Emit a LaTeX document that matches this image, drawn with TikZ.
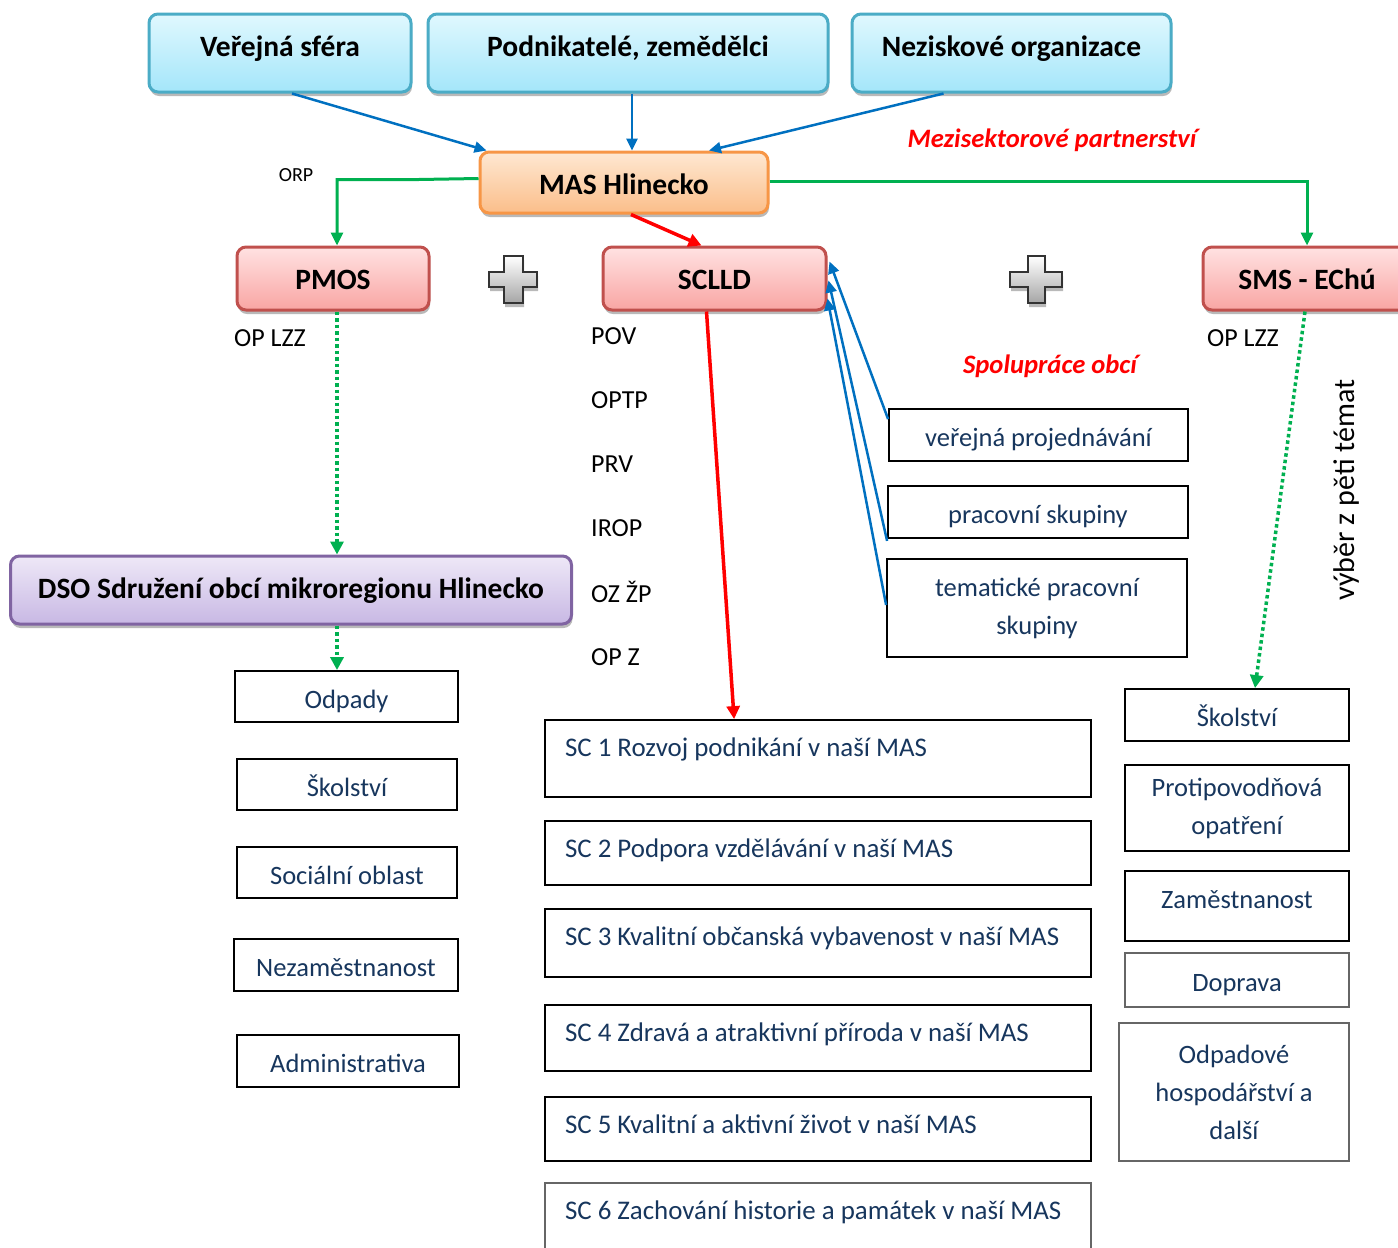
\documentclass[tikz,border=0pt]{standalone}
\usepackage{fontspec}
\setmainfont{Carlito}
\usetikzlibrary{arrows.meta,shadows,calc}
\definecolor{navytxt}{RGB}{23,54,93}
\definecolor{topborder}{RGB}{75,172,198}
\definecolor{toptop}{RGB}{224,248,254}
\definecolor{topbot}{RGB}{164,230,250}
\definecolor{masborder}{RGB}{247,150,70}
\definecolor{mastop}{RGB}{254,232,210}
\definecolor{masbot}{RGB}{251,190,138}
\definecolor{redborder}{RGB}{192,80,77}
\definecolor{redtop}{RGB}{255,226,226}
\definecolor{redbot}{RGB}{249,165,163}
\definecolor{purborder}{RGB}{128,100,162}
\definecolor{purtop}{RGB}{238,232,247}
\definecolor{purbot}{RGB}{200,184,228}
\definecolor{arrblue}{RGB}{0,112,192}
\definecolor{arrgreen}{RGB}{0,176,80}
\definecolor{arrred}{RGB}{255,0,0}
\begin{document}
\begin{tikzpicture}[x=1pt,y=-1pt,
  shad/.style={drop shadow={shadow xshift=1pt,shadow yshift=-4pt,fill=black!50,opacity=.55}},
  roundbox/.style={rounded corners=9pt, line width=3pt, inner sep=0pt, shad, font=\fontsize{29.5}{34}\selectfont\bfseries},
  topbox/.style={roundbox, draw=topborder, top color=toptop, bottom color=topbot, text height=20pt, text depth=13pt},
  masbox/.style={roundbox, draw=masborder, top color=mastop, bottom color=masbot, text height=30pt, text depth=6pt},
  redbox/.style={roundbox, draw=redborder, top color=redtop, bottom color=redbot, text height=28pt, text depth=6pt},
  purbox/.style={roundbox, draw=purborder, top color=purtop, bottom color=purbot, text height=24pt, text depth=7pt},
  plainbox/.style={draw=black, line width=1.8pt, inner sep=0pt, align=center, text=navytxt, font=\fontsize{26.5}{38}\selectfont},
  oneline/.style={text height=29pt, text depth=6pt},
  graybox/.style={plainbox, draw=black!60},
  scbox/.style={plainbox, minimum width=546pt, inner xsep=20pt, inner ysep=0pt, text height=36pt, font=\fontsize{26.9}{38}\selectfont},
  lbl/.style={inner sep=0pt, font=\fontsize{26}{30}\selectfont},
  redlbl/.style={inner sep=0pt, text=arrred, font=\fontsize{26.6}{30}\selectfont\bfseries\itshape},
  bluearr/.style={draw=arrblue, line width=2.5pt, -{Triangle[length=12pt,width=11pt]}},
  greenarr/.style={draw=arrgreen, line width=3pt, -{Triangle[length=13pt,width=12pt]}},
  greendot/.style={draw=arrgreen, line width=3.5pt, dash pattern=on 3.5pt off 3pt, -{Triangle[length=13pt,width=13pt]}},
  redarr/.style={draw=arrred, line width=3.5pt, -{Triangle[length=13pt,width=13pt]}},
  plusst/.style={draw=black!80, line width=2pt, top color=white, bottom color=black!35, shad}
]
\useasboundingbox (0,0) rectangle (1398,1248);

% top boxes
\node[topbox, minimum width=262pt, minimum height=78pt] (ver) at (280,53) {Veřejná sféra};
\node[topbox, minimum width=400pt, minimum height=78pt] (pod) at (628,53) {Podnikatelé, zemědělci};
\node[topbox, minimum width=319pt, minimum height=78pt] (nez) at (1011.5,53) {Neziskové organizace};

\node[masbox, minimum width=288pt, minimum height=61pt] (mas) at (624,182.5) {MAS Hlinecko};

\node[redbox, minimum width=192pt, minimum height=63pt] (pmos) at (333,278.5) {PMOS};
\node[redbox, minimum width=223pt, minimum height=63pt] (sclld) at (714.5,278.5) {SCLLD};
\node[redbox, minimum width=208pt, minimum height=63pt] (sms) at (1307,278.5) {SMS - EChú};

\node[purbox, minimum width=561pt, minimum height=68pt] (dso) at (291,590) {DSO Sdružení obcí mikroregionu Hlinecko};

% plus signs
\draw[plusst] (504,256) -- (523,256) -- (523,272) -- (537,272) -- (537,287) -- (523,287) -- (523,303) -- (504,303) -- (504,287) -- (489,287) -- (489,272) -- (504,272) -- cycle;
\draw[plusst] (1028,256) -- (1045,256) -- (1045,272) -- (1062,272) -- (1062,287) -- (1045,287) -- (1045,303) -- (1028,303) -- (1028,287) -- (1010,287) -- (1010,272) -- (1028,272) -- cycle;

% labels
\node[lbl, font=\fontsize{20}{22}\selectfont] (orp) at (296,175) {ORP};
\node[lbl] (oplzz1) at (270,338) {OP LZZ};
\node[lbl] (oplzz2) at (1243,338) {OP LZZ};
\node[lbl, anchor=west] (pov) at (591,336) {POV};
\node[lbl, anchor=west] (optp) at (591,400) {OPTP};
\node[lbl, anchor=west] (prv) at (591,464) {PRV};
\node[lbl, anchor=west] (irop) at (591,528) {IROP};
\node[lbl, anchor=west] (ozzp) at (591,592) {OZ ŽP};
\node[lbl, anchor=west] (opz) at (591,657) {OP Z};
\node[redlbl] (mezi) at (1052,140) {Mezisektorové partnerství};
\node[redlbl] (spol) at (1050,366) {Spolupráce obcí};
\node[lbl, rotate=90, font=\fontsize{30}{32}\selectfont] (vyber) at (1346,490) {výběr z pěti témat};

% left boxes
\node[plainbox, oneline, minimum width=223pt, minimum height=51pt] (odp) at (346.5,696.5) {Odpady};
\node[plainbox, oneline, minimum width=220pt, minimum height=51pt] (skol1) at (347,784.5) {Školství};
\node[plainbox, oneline, minimum width=220pt, minimum height=51pt] (soc) at (347,872.5) {Sociální oblast};
\node[plainbox, oneline, minimum width=224pt, minimum height=52pt] (nezam) at (346,965) {Nezaměstnanost};
\node[plainbox, oneline, minimum width=222pt, minimum height=52pt] (adm) at (348,1061) {Administrativa};

% cooperation boxes
\node[plainbox, oneline, minimum width=299pt, minimum height=52pt] (vp) at (1038.5,435) {veřejná projednávání};
\node[plainbox, oneline, minimum width=300pt, minimum height=52pt] (ps) at (1038,512) {pracovní skupiny};
\node[plainbox, minimum width=300pt, minimum height=98pt] (tps) at (1037,608) {tematické pracovní\\skupiny};

% right boxes
\node[plainbox, oneline, minimum width=224pt, minimum height=52pt] (skol2) at (1237,715) {Školství};
\node[plainbox, minimum width=224pt, minimum height=86pt] (prot) at (1237,808) {Protipovodňová\\opatření};
\node[plainbox, minimum width=224pt, inner ysep=0pt, text height=37pt, text depth=33pt] (zam) at (1237,906) {Zaměstnanost};
\node[graybox, oneline, minimum width=224pt, minimum height=54pt] (dop) at (1237,980) {Doprava};
\node[graybox, minimum width=230pt, minimum height=138pt] (odh) at (1234,1092) {Odpadové\\hospodářství a\\další};

% SC boxes
\node[scbox, text depth=41pt] (sc1) at (818,758.5) {\makebox[506pt][l]{SC 1 Rozvoj podnikání v naší MAS}};
\node[scbox, text depth=28pt] (sc2) at (818,853) {\makebox[506pt][l]{SC 2 Podpora vzdělávání v naší MAS}};
\node[scbox, text depth=32pt] (sc3) at (818,943) {\makebox[506pt][l]{SC 3 Kvalitní občanská vybavenost v naší MAS}};
\node[scbox, text depth=30pt] (sc4) at (818,1038) {\makebox[506pt][l]{SC 4 Zdravá a atraktivní příroda v naší MAS}};
\node[scbox, text depth=28pt] (sc5) at (818,1129) {\makebox[506pt][l]{SC 5 Kvalitní a aktivní život v naší MAS}};
\node[scbox, draw=black!60, text depth=44pt] (sc6) at (818,1223) {\makebox[506pt][l]{SC 6 Zachování historie a památek v naší MAS}};

% connectors
\draw[bluearr] ($(ver.south)+(12,0)$) -- ($(mas.north west)+(8,0)$);
\draw[bluearr] ($(pod.south)+(4,0)$) -- ($(mas.north)+(8,0)$);
\draw[bluearr] ($(nez.south)+(-68,0)$) -- ($(mas.north)+(85,0)$);

\draw[greenarr] ($(mas.west)+(0,-4)$) -- ($(mas.west)+(-60,-3)$) -| ($(pmos.north)+(4,0)$);
\draw[greenarr] ($(mas.east)+(0,-1)$) -| (sms.north);

\draw[redarr] ($(mas.south)+(7,0)$) -- ($(sclld.north)+(-13,0)$);
\draw[redarr] ($(sclld.south)+(-8,0)$) -- ($(sc1.north west)+(190,0)$);

\draw[greendot] ($(pmos.south)+(4,0)$) -- ($(dso.north)+(46,0)$);
\draw[greendot] ($(dso.south)+(46,0)$) -- ($(odp.north)+(-9.5,0)$);
\draw[greendot] ($(sms.south)+(-2,0)$) -- ($(skol2.north)+(18,0)$);

\draw[bluearr] ($(vp.north west)+(0,11)$) -- ($(sclld.north east)+(2,16)$);
\draw[bluearr] ($(ps.south west)+(0,2)$) -- ($(sclld.north east)+(1,35)$);
\draw[bluearr] ($(tps.west)+(0,-3)$) -- ($(sclld.north east)+(0,53)$);
\end{tikzpicture}
\end{document}
